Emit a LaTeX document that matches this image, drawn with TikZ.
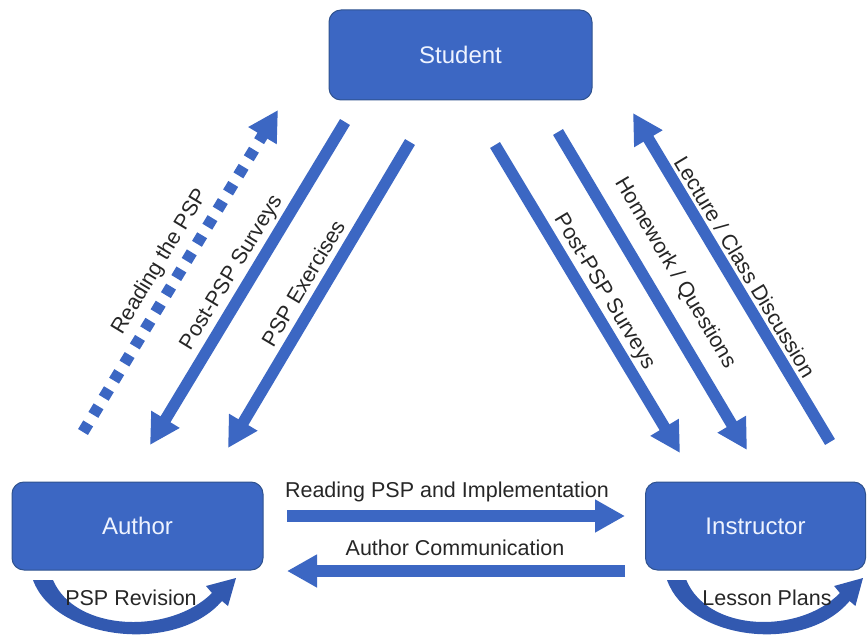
\documentclass[tikz,border=0pt]{standalone}
\usepackage{fontspec}
\setmainfont{Liberation Sans}
\usetikzlibrary{arrows.meta}
\definecolor{boxblue}{HTML}{3C67C3}
\definecolor{boxedge}{HTML}{2F528F}
\definecolor{arrblue}{HTML}{3C67C3}
\definecolor{loopblue}{HTML}{3259B0}
\definecolor{lbltext}{HTML}{262626}
\definecolor{boxtext}{HTML}{EEF3FF}
\tikzset{
  box/.style={draw=boxedge, line width=1pt, fill=boxblue, rounded corners=12pt,
    text=boxtext, font=\fontsize{24}{28}\selectfont, inner sep=0pt},
  bigarrow/.style={draw=arrblue, line width=11.5pt, line cap=butt,
    -{Triangle[length=30pt,width=31pt]}},
  dotarrow/.style={bigarrow, dash pattern=on 10pt off 10pt},
  lbl/.style={text=lbltext, font=\fontsize{21.5}{25}\selectfont, inner sep=0pt},
  loopshape/.style={fill=loopblue, draw=none}
}
\begin{document}
\begin{tikzpicture}[x=1pt,y=-1pt]
\useasboundingbox (0,0) rectangle (867,636);
% boxes
\node[box, minimum width=263pt, minimum height=90pt] (student) at (460.5,55) {Student};
\node[box, minimum width=251pt, minimum height=88pt] (author) at (137.5,526) {Author};
\node[box, minimum width=220pt, minimum height=88pt] (instructor) at (755.5,526) {Instructor};
% endpoints
\coordinate (a1s) at (83,432);  \coordinate (a1e) at (278,110);
\coordinate (a2s) at (345,122); \coordinate (a2e) at (150,445);
\coordinate (a3s) at (410,142); \coordinate (a3e) at (228,448);
\coordinate (b1s) at (495,145); \coordinate (b1e) at (680,453);
\coordinate (b2s) at (558,132); \coordinate (b2e) at (747,450);
\coordinate (b3s) at (830,442); \coordinate (b3e) at (633,113);
\coordinate (h1s) at (287,516); \coordinate (h1e) at (625,516);
\coordinate (h2s) at (625,571); \coordinate (h2e) at (287,571);
% arrows
\draw[dotarrow] (a1s) -- (a1e);
\draw[bigarrow] (a2s) -- (a2e);
\draw[bigarrow] (a3s) -- (a3e);
\draw[bigarrow] (b1s) -- (b1e);
\draw[bigarrow] (b2s) -- (b2e);
\draw[bigarrow] (b3s) -- (b3e);
\draw[bigarrow] (h1s) -- (h1e);
\draw[bigarrow] (h2s) -- (h2e);
% labels
\node[lbl, rotate=58.8] (l1) at (160,262) {Reading the PSP};
\node[lbl, rotate=58.6] (l2) at (232,273) {Post-PSP Surveys};
\node[lbl, rotate=59.3] (l3) at (303,283) {PSP Exercises};
\node[lbl, rotate=-59.0] (l4) at (604,292) {Post-PSP Surveys};
\node[lbl, rotate=-59.3] (l5) at (675,273) {Homework / Questions};
\node[lbl, rotate=-59.0] (l6) at (745,267) {Lecture / Class Discussion};
\node[lbl] (l7) at (447,492) {Reading PSP and Implementation};
\node[lbl] (l8) at (455,548) {Author Communication};
% self loops (crescent arrows)
\fill[loopshape] (33,580) .. controls (55,640) and (175,655) .. (222,601)
  -- (228,606) -- (236,578) -- (206,586) -- (212,593)
  .. controls (170,635) and (75,632) .. (53,580) -- cycle;
\fill[loopshape] (667,580) .. controls (688.3,640) and (804.2,655) .. (849.6,601)
  -- (855.4,606) -- (863,578) -- (834.1,586) -- (839.9,593)
  .. controls (799.3,635) and (707.6,632) .. (686.3,580) -- cycle;
\node[lbl] (l9) at (131,598) {PSP Revision};
\node[lbl] (l10) at (767,598) {Lesson Plans};
\end{tikzpicture}
\end{document}
